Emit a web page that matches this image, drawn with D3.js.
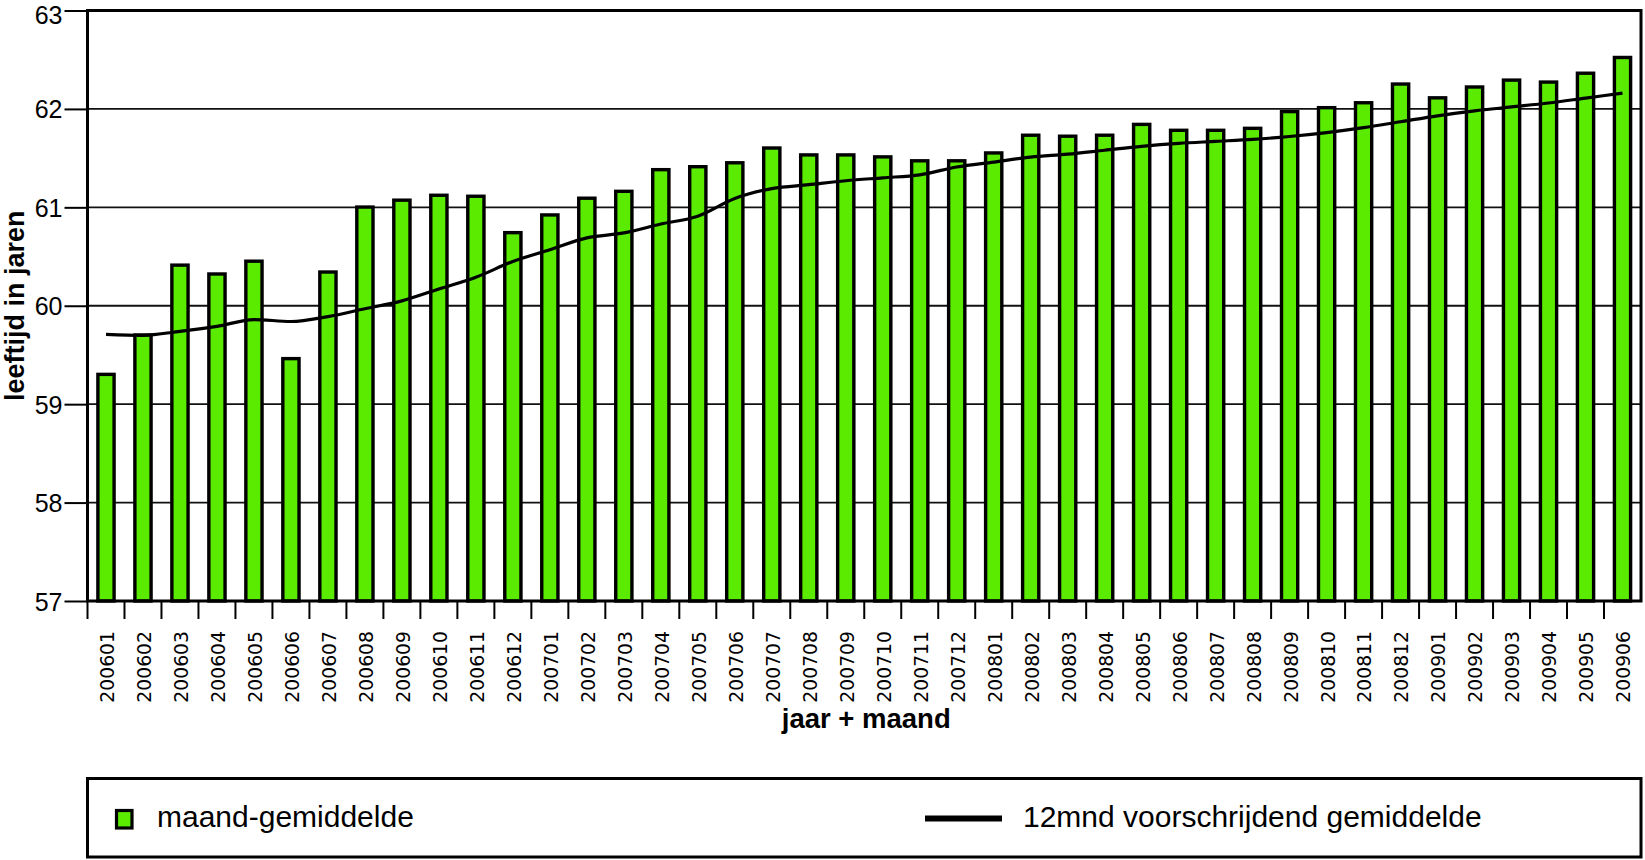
<!DOCTYPE html>
<html>
<head>
<meta charset="utf-8">
<script src="https://cdn.jsdelivr.net/npm/d3@7"></script>
<style>
  html, body { margin: 0; padding: 0; background: #fff; }
  svg { display: block; }
</style>
</head>
<body>
<svg id="chart" width="1645" height="860"></svg>
<script>
const months = ["200601","200602","200603","200604","200605","200606","200607","200608","200609","200610","200611","200612",
                "200701","200702","200703","200704","200705","200706","200707","200708","200709","200710","200711","200712",
                "200801","200802","200803","200804","200805","200806","200807","200808","200809","200810","200811","200812",
                "200901","200902","200903","200904","200905","200906"];
const maandGemiddelde = [59.32, 59.72, 60.43, 60.34, 60.47, 59.48, 60.36, 61.02, 61.09, 61.14, 61.13, 60.76,
                         60.94, 61.11, 61.18, 61.40, 61.43, 61.47, 61.62, 61.55, 61.55, 61.53, 61.49, 61.49,
                         61.57, 61.75, 61.74, 61.75, 61.86, 61.80, 61.80, 61.82, 61.99, 62.03, 62.08, 62.27,
                         62.13, 62.24, 62.31, 62.29, 62.38, 62.54];
const voortschrijdend = [59.71, 59.70, 59.74, 59.79, 59.86, 59.84, 59.89, 59.97, 60.05, 60.17, 60.29, 60.45,
                         60.57, 60.69, 60.74, 60.83, 60.91, 61.09, 61.19, 61.23, 61.27, 61.30, 61.33, 61.41,
                         61.46, 61.51, 61.54, 61.58, 61.62, 61.65, 61.67, 61.69, 61.72, 61.76, 61.81, 61.87,
                         61.93, 61.98, 62.02, 62.06, 62.11, 62.16];
const yTicks = [57, 58, 59, 60, 61, 62, 63];
const yTitle = "leeftijd in jaren";
const xTitle = "jaar + maand";
const legendLabels = ["maand-gemiddelde", "12mnd voorschrijdend gemiddelde"];

(function () {
const GREEN = "#5aeb00";
const svg = d3.select("#chart");
const pL = 87.5, pR = 1641, pT = 10.5, pB = 601;

const x = d3.scaleBand().domain(months).range([pL, pR]).padding(0);
const y = d3.scaleLinear().domain([57, 63]).range([pB, pT]);
const bw = x.bandwidth();

// gridlines
svg.append("g").selectAll("line").data(yTicks.filter(t => t > 57 && t < 63)).join("line")
  .attr("x1", pL).attr("x2", pR)
  .attr("y1", d => y(d)).attr("y2", d => y(d))
  .attr("stroke", "#111").attr("stroke-width", 1.8);

// y axis ticks + labels
const yAxis = svg.append("g").attr("transform", `translate(${pL},0)`)
  .call(d3.axisLeft(y).tickValues(yTicks).tickSize(23).tickPadding(2).tickFormat(d3.format("d")));
yAxis.select(".domain").remove();
yAxis.selectAll(".tick line").attr("stroke", "#000").attr("stroke-width", 2);
yAxis.selectAll(".tick text")
  .attr("font-family", "'Liberation Sans', Arial, sans-serif")
  .attr("font-size", 25).attr("fill", "#000")
  .attr("dy", d => d === 63 ? "0.5em" : "0.36em");

// x ticks at band boundaries
svg.append("g").selectAll("line").data(months).join("line")
  .attr("x1", d => x(d)).attr("x2", d => x(d))
  .attr("y1", pB).attr("y2", 619)
  .attr("stroke", "#000").attr("stroke-width", 2);

// x labels
svg.append("g").selectAll("text").data(months).join("text")
  .attr("transform", d => `translate(${x(d) + bw / 2},631) rotate(-90)`)
  .attr("text-anchor", "end")
  .attr("dy", "0.42em")
  .attr("font-family", "'DejaVu Sans', sans-serif")
  .attr("font-size", 18.8)
  .attr("fill", "#000")
  .text(d => d);

// bars
const barW = bw * 0.53;
svg.append("g").selectAll("rect").data(months).join("rect")
  .attr("x", d => x(d) + (bw - barW) / 2 + 1.7)
  .attr("width", barW - 3.4)
  .attr("y", (d, i) => y(maandGemiddelde[i]) + 1.7)
  .attr("height", (d, i) => pB - y(maandGemiddelde[i]) - 1.7)
  .attr("fill", GREEN)
  .attr("stroke", "#000")
  .attr("stroke-width", 3.4);

// moving average line
const line = d3.line()
  .x((d, i) => x(months[i]) + bw / 2)
  .y(d => y(d))
  .curve(d3.curveMonotoneX);
svg.append("path").datum(voortschrijdend)
  .attr("d", line)
  .attr("fill", "none")
  .attr("stroke", "#000")
  .attr("stroke-width", 3.2)
  .attr("stroke-linejoin", "round");

// frame
svg.append("rect")
  .attr("x", pL).attr("y", pT)
  .attr("width", pR - pL).attr("height", pB - pT)
  .attr("fill", "none").attr("stroke", "#000").attr("stroke-width", 3);

// axis titles
svg.append("text")
  .attr("transform", `translate(24,${(pT + pB) / 2}) rotate(-90)`)
  .attr("text-anchor", "middle")
  .attr("font-family", "'Liberation Sans', Arial, sans-serif")
  .attr("font-weight", "bold").attr("font-size", 27)
  .text(yTitle);
svg.append("text")
  .attr("x", (pL + pR) / 2 + 2).attr("y", 728)
  .attr("text-anchor", "middle")
  .attr("font-family", "'Liberation Sans', Arial, sans-serif")
  .attr("font-weight", "bold").attr("font-size", 27.5)
  .text(xTitle);

// legend
const lg = svg.append("g");
lg.append("rect").attr("x", 87.5).attr("y", 778.5).attr("width", 1553.5).attr("height", 78.5)
  .attr("fill", "none").attr("stroke", "#000").attr("stroke-width", 3);
lg.append("rect").attr("x", 116.5).attr("y", 810.5).attr("width", 15.5).attr("height", 17.5)
  .attr("fill", GREEN).attr("stroke", "#000").attr("stroke-width", 3.2);
lg.append("line").attr("x1", 925).attr("x2", 1002).attr("y1", 818.5).attr("y2", 818.5)
  .attr("stroke", "#000").attr("stroke-width", 6);
lg.selectAll("text.leg").data(legendLabels).join("text")
  .attr("class", "leg")
  .attr("x", (d, i) => i === 0 ? 157 : 1023)
  .attr("y", 827)
  .attr("font-family", "'Liberation Sans', Arial, sans-serif")
  .attr("font-size", 30)
  .attr("fill", "#000")
  .text(d => d);
})();
</script>
</body>
</html>
